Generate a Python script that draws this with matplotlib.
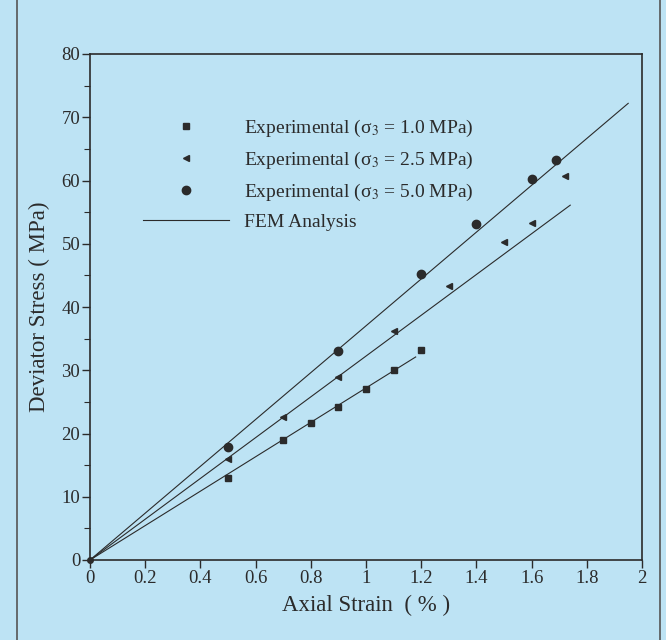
import matplotlib
matplotlib.use('Agg')
import matplotlib.pyplot as plt
from matplotlib.lines import Line2D

plt.rcParams['font.family'] = ['Liberation Serif', 'DejaVu Serif']
plt.rcParams['mathtext.fontset'] = 'stix'

# experimental points
x_sq = [0.5, 0.7, 0.8, 0.9, 1.0, 1.1, 1.2]
y_sq = [12.9, 19.0, 21.6, 24.2, 27.1, 30.0, 33.2]
x_tri = [0.5, 0.7, 0.9, 1.1, 1.3, 1.5, 1.6, 1.72]
y_tri = [15.9, 22.6, 29.0, 36.2, 43.3, 50.2, 53.3, 60.7]
x_cir = [0.5, 0.9, 1.2, 1.4, 1.6, 1.69]
y_cir = [17.9, 33.1, 45.2, 53.2, 60.2, 63.2]

# FEM lines
fem1_x = [0, 1.18]
fem1_y = [0, 32.1]
fem2_x = [0, 1.74]
fem2_y = [0, 56.1]
fem3_x = [0, 1.95]
fem3_y = [0, 72.2]

labels = ['Experimental (σ$_3$ = 1.0 MPa)',
          'Experimental (σ$_3$ = 2.5 MPa)',
          'Experimental (σ$_3$ = 5.0 MPa)',
          'FEM Analysis']

bg = '#bde3f4'
ink = '#2b2b2b'

fig = plt.figure(figsize=(6.66, 6.4), dpi=100, facecolor=bg)
ax = fig.add_axes([90/666, 1-560/640, 552/666, 506/640], facecolor=bg)

for xs, ys in [(fem1_x, fem1_y), (fem2_x, fem2_y), (fem3_x, fem3_y)]:
    ax.plot(xs, ys, color=ink, lw=0.8)

ax.plot(x_sq, y_sq, 's', color=ink, ms=4, ls='none')
ax.plot(x_tri, y_tri, '<', color=ink, ms=4.5, ls='none')
ax.plot(x_cir, y_cir, 'o', color=ink, ms=6, ls='none')
ax.plot([0], [0], 'o', color=ink, ms=4, clip_on=False)

ax.set_xlim(0, 2)
ax.set_ylim(0, 80)
ax.set_xticks([0, 0.2, 0.4, 0.6, 0.8, 1, 1.2, 1.4, 1.6, 1.8, 2])
ax.set_xticklabels(['0', '0.2', '0.4', '0.6', '0.8', '1', '1.2', '1.4', '1.6', '1.8', '2'])
ax.set_yticks(range(0, 81, 10))
ax.set_yticks(range(5, 80, 10), minor=True)
ax.tick_params(axis='both', which='major', direction='out', length=6, width=1,
               labelsize=13.5, colors=ink, pad=1)
ax.tick_params(axis='y', which='minor', direction='out', length=4, width=0.8, colors=ink)
for s in ax.spines.values():
    s.set_color(ink)
    s.set_linewidth(1.2)

ax.set_xlabel('Axial Strain  ( % )', fontsize=16.5, color=ink, labelpad=6)
ax.set_ylabel('Deviator Stress ( MPa)', fontsize=16.5, color=ink, labelpad=8)

handles = [
    Line2D([], [], marker='s', color=ink, ms=4, ls='none'),
    Line2D([], [], marker='<', color=ink, ms=4.5, ls='none'),
    Line2D([], [], marker='o', color=ink, ms=6, ls='none'),
    Line2D([], [], color=ink, lw=0.8),
]
leg = fig.legend(handles, labels, loc='upper left',
                 bbox_to_anchor=(143/666, 1-118/640), bbox_transform=fig.transFigure,
                 frameon=False, fontsize=14, handlelength=4.4, handletextpad=0.8,
                 labelspacing=0.55, borderpad=0, borderaxespad=0)
for t in leg.get_texts():
    t.set_color(ink)

# page frame of the scan
fig.add_artist(Line2D([17/666, 17/666], [0, 1], transform=fig.transFigure, color='#555555', lw=1.2))
fig.add_artist(Line2D([660/666, 660/666], [0, 1], transform=fig.transFigure, color='#555555', lw=1.2))

fig.savefig('out.png', dpi=100, facecolor=bg)
